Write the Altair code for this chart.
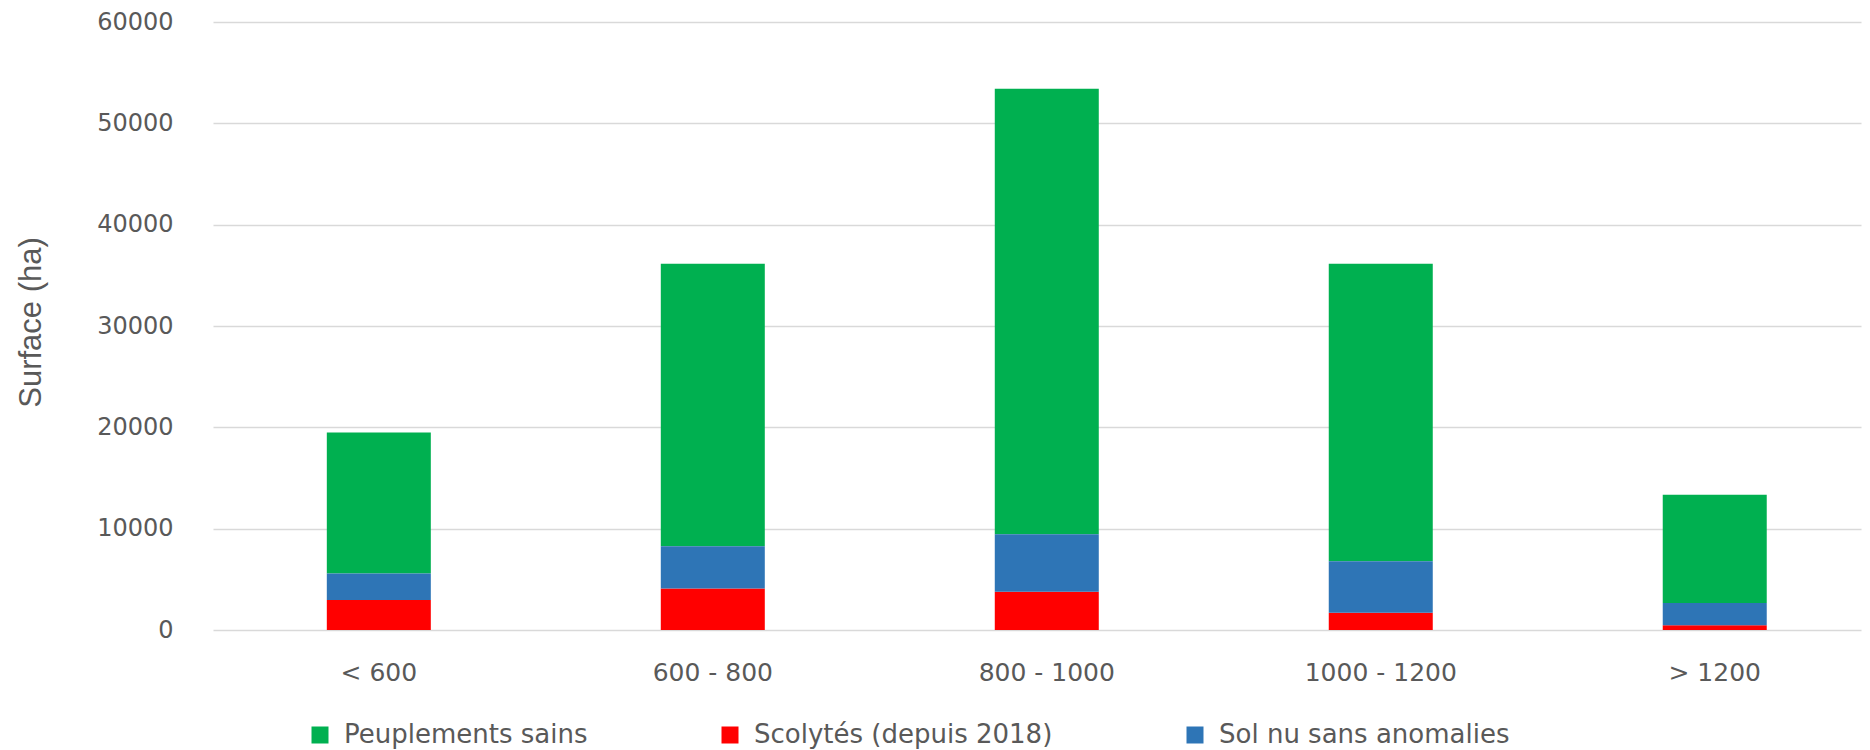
import altair as alt
import pandas as pd

# Altitude classes (m)
categories = ["< 600", "600 - 800", "800 - 1000", "1000 - 1200", "> 1200"]

series_names = ["Peuplements sains", "Scolytés (depuis 2018)", "Sol nu sans anomalies"]
series_colors = ["#00B050", "#FF0000", "#2E75B6"]
stack_rank = [2, 0, 1]  # red at bottom, then blue, then green

# Surface (ha) per class
sains = [13920, 27880, 43970, 29360, 10690]
scolytes = [2950, 4100, 3770, 1700, 460]
sol_nu = [2630, 4170, 5680, 5090, 2200]

y_ticks = [0, 10000, 20000, 30000, 40000, 50000, 60000]

rows = []
for name, vals, rank in zip(series_names, [sains, scolytes, sol_nu], stack_rank):
    for cat, v in zip(categories, vals):
        rows.append({"Altitude": cat, "Série": name, "Surface": v, "rang": rank})
df = pd.DataFrame(rows)

grey = "#595959"

chart = alt.Chart(df).mark_bar().encode(
    x=alt.X(
        "Altitude:N",
        sort=categories,
        scale=alt.Scale(paddingInner=0.6886, paddingOuter=0.3115, align=0.547),
        axis=alt.Axis(
            title=None, labelAngle=0, domain=False, ticks=False, tickSize=0,
            labelPadding=30, labelFont="DejaVu Sans", labelFontSize=25,
            labelColor=grey, labelLimit=300, grid=False,
        ),
    ),
    y=alt.Y(
        "Surface:Q",
        stack="zero",
        scale=alt.Scale(domain=[0, 60000], nice=False),
        axis=alt.Axis(
            title="Surface (ha)", values=y_ticks, format="d", domain=False,
            ticks=False, tickSize=0, labelPadding=40, labelFont="DejaVu Sans",
            labelFontSize=24, labelColor=grey, gridColor="#D9D9D9", gridWidth=1.6,
            titleFont="Liberation Sans", titleFontSize=31, titleFontWeight="normal",
            titleColor=grey, titleX=-182, titleY=300, titleAngle=270,
            titleAlign="center", titleBaseline="middle",
        ),
    ),
    color=alt.Color(
        "Série:N",
        scale=alt.Scale(domain=series_names, range=series_colors),
        legend=alt.Legend(
            title=None, orient="none", legendX=94, legendY=700,
            direction="horizontal", columns=3, symbolType="square",
            symbolSize=289, symbolStrokeWidth=0, labelFont="DejaVu Sans",
            labelFontSize=26, labelColor=grey, labelOffset=11,
            columnPadding=129, padding=0, labelLimit=500,
        ),
    ),
    order=alt.Order("rang:Q", sort="ascending"),
).properties(
    width=1648,
    height=608,
    autosize=alt.AutoSizeParams(type="none"),
    padding={"left": 205, "top": 14, "right": 1, "bottom": 120},
).configure_view(stroke=None)

chart.save("out.html", embed_options={"renderer": "svg", "actions": False})
